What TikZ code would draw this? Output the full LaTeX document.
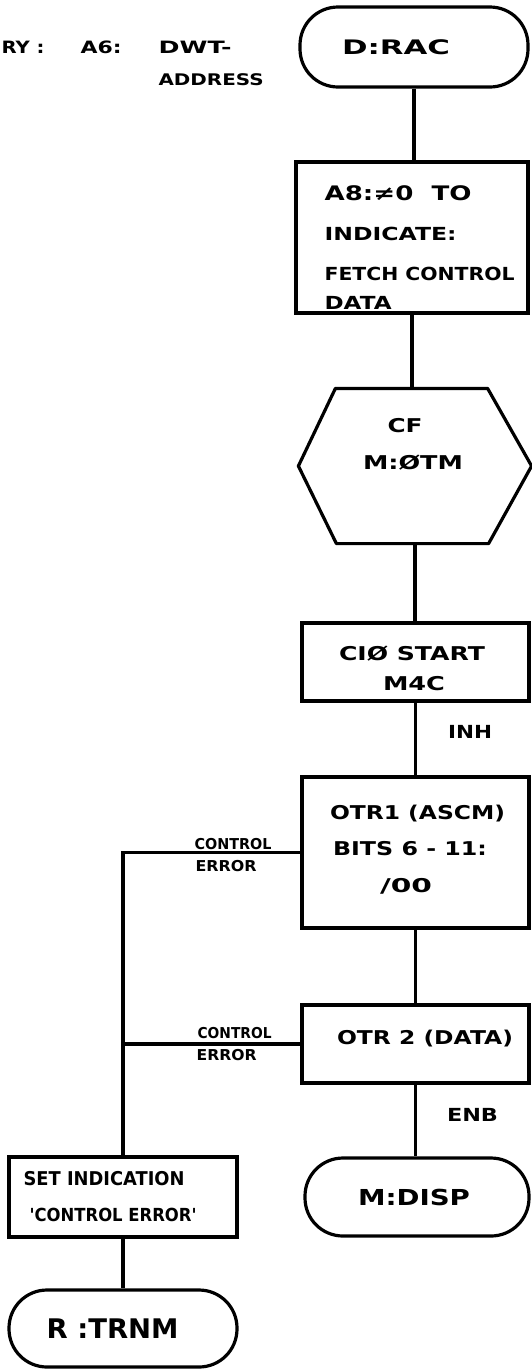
\documentclass[tikz,border=0pt]{standalone}
\usepackage{fontspec}
\usepackage{graphicx}
\setmainfont{DejaVu Sans}
\usetikzlibrary{calc}
\newlength\hwlen
\newcommand\hw[3]{{\fontsize{#1}{#1}\selectfont\bfseries\settowidth\hwlen{#3}\pgfmathsetmacro\hwr{#2/\hwlen}\scalebox{\hwr}[1]{#3}}}
\begin{document}
\begin{tikzpicture}[x=1pt, y=-1pt, line width=3.2pt,
  every node/.style={inner sep=0pt},
  boxn/.style 2 args={draw, rectangle, minimum width=#1, minimum height=#2},
  term/.style 2 args={draw, rectangle, rounded corners=38pt, minimum width=#1, minimum height=#2},
  lbl/.style={anchor=base west},
  ctr/.style={anchor=base}]
\useasboundingbox (0,0) rectangle (531,1369);

% right column
\node[term={228}{80}] (drac) at (414,47) {};
\node[boxn={232}{151}] (a8) at (412,237.5) {};
\node[minimum width=230, minimum height=152] (cf) at (415,466) {};
\draw[line join=round] (cf.west) -- ([xshift=37]cf.north west) -- ([xshift=-44]cf.north east) -- (cf.east) -- ([xshift=-43]cf.south east) -- ([xshift=38]cf.south west) -- cycle;
\node[boxn={227}{78}] (cio) at (415.5,662) {};
\node[boxn={227}{151}] (otr1) at (415.5,852.5) {};
\node[boxn={227}{78}] (otr2) at (415.5,1044) {};
\node[term={224}{78}] (disp) at (417,1197) {};

% left column
\node[boxn={228}{80}] (setind) at (123,1197) {};
\node[term={228}{77}] (trnm) at (123,1328.5) {};

% connectors
\draw (drac.south) -- (drac.south |- a8.north);
\draw (a8.south) -- (a8.south |- cf.north);
\draw (cf.south) -- (cf.south |- cio.north);
\draw (cio.south) -- (cio.south |- otr1.north);
\draw (otr1.south) -- (otr1.south |- otr2.north);
\draw (otr2.south) -- (otr2.south |- disp.north);
\coordinate (e1) at (otr1.west -| setind.north);
\coordinate (e2) at (otr2.west -| setind.north);
\draw (otr1.west) -- (e1) -- (setind.north);
\draw (otr2.west) -- (e2);
\draw (setind.south) -- (trnm.north);

% texts
\node[lbl] (tr1) at (0,53.5) {\hw{17}{43}{RY :}};
\node[lbl] (tr2) at (79,53.5) {\hw{17}{41}{A6:}};
\node[lbl] (tr3) at (157,53.5) {\hw{17}{73}{DWT-}};
\node[lbl] (tr4) at (157,85) {\hw{16}{105}{ADDRESS}};

\node[ctr] (tdrac) at (396,54.5) {\hw{20}{108}{D:RAC}};

\node[lbl] (ta1) at (323,200) {\hw{20}{147}{A8:≠0\ \ TO}};
\node[lbl] (ta2) at (323,240) {\hw{18}{132}{INDICATE:}};
\node[lbl] (ta3) at (323,280) {\hw{18}{190}{FETCH CONTROL}};
\node[lbl] (ta4) at (323,309) {\hw{18}{67}{DATA}};

\node[ctr] (tcf1) at (405,432) {\hw{19}{35}{CF}};
\node[ctr] (tcf2) at (413,469) {\hw{19}{100}{M:ØTM}};

\node[ctr] (tc1) at (412,660) {\hw{19}{146}{CIØ START}};
\node[ctr] (tc2) at (414,690) {\hw{19}{62}{M4C}};
\node[ctr] (tinh) at (470,738.5) {\hw{18}{44}{INH}};

\node[ctr] (to1) at (417.5,819) {\hw{19}{175}{OTR1 (ASCM)}};
\node[ctr] (to2) at (410,855) {\hw{19}{154}{BITS 6 - 11:}};
\node[ctr] (to3) at (406,892) {\hw{19}{52}{/00}};

\node[ctr] (to4) at (425,1044) {\hw{19}{176}{OTR 2 (DATA)}};
\node[ctr] (tenb) at (472.5,1121.5) {\hw{18}{51}{ENB}};
\node[ctr] (tdisp) at (414,1205.5) {\hw{22}{112}{M:DISP}};

\node[lbl] (ts1) at (22,1185) {\hw{19}{161}{SET INDICATION}};
\node[lbl] (ts2) at (28,1221.5) {\hw{18}{167}{\textquotesingle CONTROL ERROR\textquotesingle}};
\node[lbl] (ttrnm) at (45,1338.5) {\hw{27}{132}{R :TRNM}};

\node[lbl] (tce1) at (193,849.5) {\hw{15}{77}{CONTROL}};
\node[lbl] (tce2) at (194,871.5) {\hw{15}{61}{ERROR}};
\node[lbl] (tce3) at (196,1038.5) {\hw{15}{74}{CONTROL}};
\node[lbl] (tce4) at (195,1060.5) {\hw{15}{60}{ERROR}};
\end{tikzpicture}
\end{document}
